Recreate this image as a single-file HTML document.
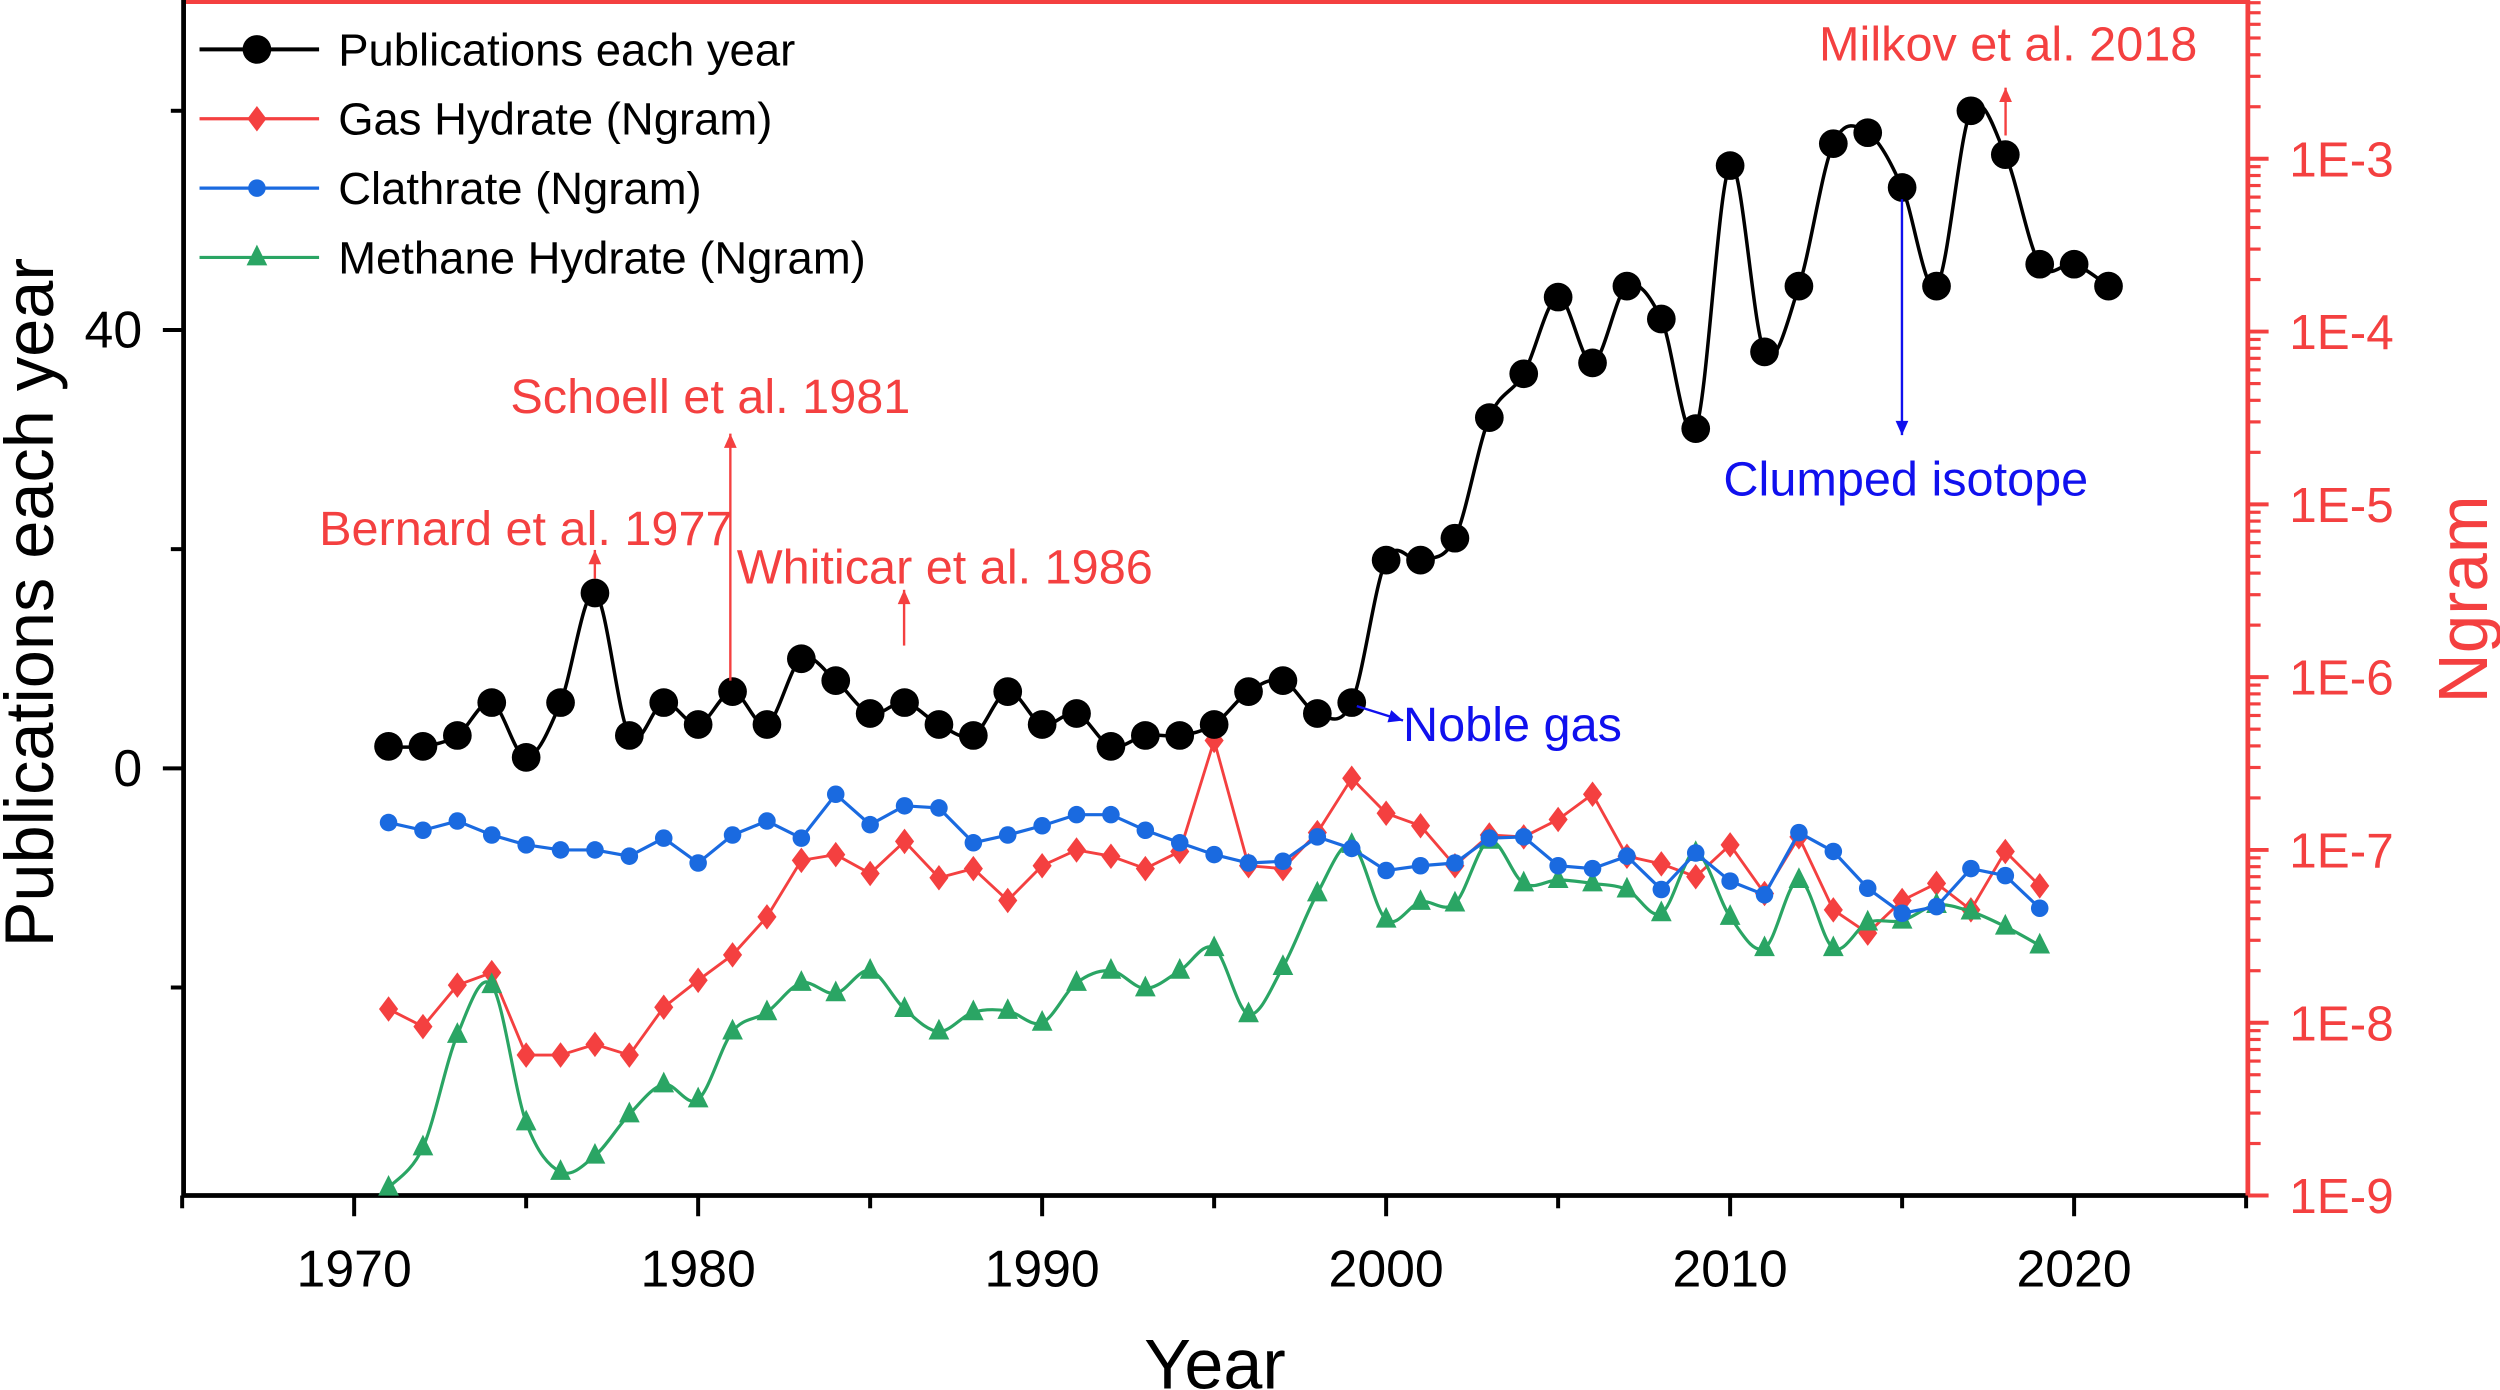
<!DOCTYPE html>
<html><head><meta charset="utf-8"><style>html,body{margin:0;padding:0;background:#fff}svg{display:block}text{font-family:"Liberation Sans",Arial,sans-serif}</style></head>
<body>
<svg id="chart" width="2500" height="1390" viewBox="0 0 1568 872" xmlns="http://www.w3.org/2000/svg">
<g id="axes"></g>
<g id="series"></g>
<g id="annot"></g>
</svg>
<script>
const years = [];for(let y=1971;y<=2021;y++)years.push(y);
const pubs = [2,2,3,6,1,6,16,3,6,4,7,4,10,8,5,6,4,3,7,4,5,2,3,3,4,7,8,5,6,19,19,21,32,36,43,37,44,41,31,55,38,44,57,58,53,44,60,56,46,46,44];
const ngramYears = [];for(let y=1971;y<=2019;y++)ngramYears.push(y);
const gasHydrate = [1.2e-8,9.5e-9,1.65e-8,1.95e-8,6.5e-9,6.5e-9,7.5e-9,6.5e-9,1.23e-8,1.76e-8,2.47e-8,4.1e-8,8.7e-8,9.4e-8,7.3e-8,1.12e-7,6.9e-8,7.8e-8,5.1e-8,8.1e-8,1.0e-7,9.2e-8,7.8e-8,9.8e-8,4.3e-7,8.1e-8,7.8e-8,1.26e-7,2.6e-7,1.63e-7,1.38e-7,8.1e-8,1.22e-7,1.19e-7,1.5e-7,2.1e-7,9.2e-8,8.3e-8,7.0e-8,1.07e-7,5.6e-8,1.19e-7,4.5e-8,3.3e-8,5.1e-8,6.4e-8,4.5e-8,9.8e-8,6.2e-8];
const clathrate = [1.44e-7,1.3e-7,1.47e-7,1.22e-7,1.07e-7,1.0e-7,1.0e-7,9.2e-8,1.17e-7,8.4e-8,1.22e-7,1.47e-7,1.17e-7,2.1e-7,1.4e-7,1.8e-7,1.75e-7,1.1e-7,1.22e-7,1.38e-7,1.6e-7,1.6e-7,1.3e-7,1.1e-7,9.4e-8,8.4e-8,8.6e-8,1.19e-7,1.02e-7,7.6e-8,8.1e-8,8.4e-8,1.17e-7,1.19e-7,8.1e-8,7.8e-8,9.2e-8,5.9e-8,9.6e-8,6.6e-8,5.5e-8,1.26e-7,9.8e-8,6.0e-8,4.3e-8,4.7e-8,7.8e-8,7.1e-8,4.6e-8];
const methane = [1.11e-9,1.9e-9,8.5e-9,1.65e-8,2.65e-9,1.37e-9,1.7e-9,2.95e-9,4.4e-9,3.6e-9,8.9e-9,1.15e-8,1.7e-8,1.48e-8,2.0e-8,1.2e-8,8.9e-9,1.15e-8,1.17e-8,1.0e-8,1.7e-8,2.0e-8,1.58e-8,2.0e-8,2.7e-8,1.12e-8,2.1e-8,5.6e-8,1.07e-7,3.95e-8,5.0e-8,4.9e-8,1.13e-7,6.4e-8,6.7e-8,6.4e-8,5.9e-8,4.3e-8,9.6e-8,4.1e-8,2.7e-8,6.7e-8,2.7e-8,3.8e-8,3.9e-8,4.8e-8,4.4e-8,3.6e-8,2.8e-8];
const xTicks = [1970,1980,1990,2000,2010,2020];
const yTicks = [0,40];
const rTicks = [-3,-4,-5,-6,-7,-8,-9];

const NS="http://www.w3.org/2000/svg";
const L=115,R=1410,T=1,B=750;
const X=y=>222+(y-1970)*(1301-222)/50;
const Y=v=>482-v*6.875;
const YR=v=>750-(Math.log10(v)+9)*108.4;
function mk(tag,attrs,parent,txt){const e=document.createElementNS(NS,tag);for(const k in attrs)e.setAttribute(k,attrs[k]);if(txt!==undefined)e.textContent=txt;parent.appendChild(e);return e;}
const ax=document.getElementById('axes'),se=document.getElementById('series'),an=document.getElementById('annot');
const RED='#f44040',BLUE='#1a6ae0',GREEN='#2aa564';
let e;
e=mk('line',{x1:L,y1:T,x2:R,y2:T,stroke:RED,'stroke-width':3},ax);


e=mk('line',{x1:L,y1:0,x2:L,y2:B+1,stroke:'#000','stroke-width':3},ax);


e=mk('line',{x1:L,y1:B,x2:R,y2:B,stroke:'#000','stroke-width':3},ax);


e=mk('line',{x1:R,y1:0,x2:R,y2:B+1,stroke:RED,'stroke-width':3},ax);


for(let yr=1965;yr<=2025;yr+=5){const major=yr%10===0;mk('line',{x1:X(yr),y1:B,x2:X(yr),y2:B+(major?13:8),stroke:'#000','stroke-width':2.5},ax);}
xTicks.forEach(t=>{e=mk('text',{x:X(t),y:807,'font-size':32.5,'text-anchor':'middle'},ax,String(t));

});
for(let v=-20;v<=60;v+=20){const major=v%40===0;mk('line',{x1:L,y1:Y(v),x2:L-(major?13:8),y2:Y(v),stroke:'#000','stroke-width':2.5},ax);}
yTicks.forEach(t=>{e=mk('text',{x:89,y:Y(t)+11,'font-size':32.5,'text-anchor':'end'},ax,String(t));

});
for(let d=-9;d<=-3;d++){mk('line',{x1:R,y1:YR(Math.pow(10,d)),x2:R+13,y2:YR(Math.pow(10,d)),stroke:RED,'stroke-width':2.5},ax);
 for(let m=2;m<=9;m++){const yy=YR(m*Math.pow(10,d));if(yy>0)mk('line',{x1:R,y1:yy,x2:R+8,y2:yy,stroke:RED,'stroke-width':2},ax);}}
rTicks.forEach(d=>{e=mk('text',{x:1436,y:YR(Math.pow(10,d))+11,'font-size':31,fill:RED},ax,'1E'+d);

});
e=mk('text',{x:762,y:871,'font-size':44,'text-anchor':'middle'},ax,'Year');


e=mk('text',{x:0,y:0,'font-size':43,'text-anchor':'middle',transform:'translate(33,378) rotate(-90)'},ax,'Publications each year');


e=mk('text',{x:0,y:0,'font-size':43.5,'text-anchor':'middle',fill:RED,transform:'translate(1560,376) rotate(-90)'},ax,'Ngram');


function smooth(pts){let d='M'+pts[0][0]+','+pts[0][1];for(let i=0;i<pts.length-1;i++){const p0=pts[i-1]||pts[i],p1=pts[i],p2=pts[i+1],p3=pts[i+2]||p2;
 const c1=[p1[0]+(p2[0]-p0[0])/6,p1[1]+(p2[1]-p0[1])/6],c2=[p2[0]-(p3[0]-p1[0])/6,p2[1]-(p3[1]-p1[1])/6];d+=' C'+c1+' '+c2+' '+p2;}return d;}
function straight(pts){return 'M'+pts.map(p=>p.join(',')).join(' L');}
function marker(type,x,y,col,g){
 if(type==='circle')return mk('circle',{cx:x,cy:y,r:9,fill:col},g);
 if(type==='dot')return mk('circle',{cx:x,cy:y,r:5.5,fill:col},g);
 if(type==='diamond')return mk('polygon',{points:`${x},${y-8} ${x+6},${y} ${x},${y+8} ${x-6},${y}`,fill:col},g);
 return mk('polygon',{points:`${x},${y-8} ${x+6.5},${y+5} ${x-6.5},${y+5}`,fill:col},g);}
function series(name,xs,vals,yf,col,type,sm,w){const g=mk('g',{},se);
 
 
 const pts=xs.map((x,i)=>[X(x),yf(vals[i])]);
 mk('path',{d:sm?smooth(pts):straight(pts),fill:'none',stroke:col,'stroke-width':w},g);
 pts.forEach(p=>{const m=marker(type,p[0],p[1],col,g);
 
 });}
series('gas-hydrate-series',ngramYears,gasHydrate,YR,RED,'diamond',false,1.8);
series('methane-hydrate-series',ngramYears,methane,YR,GREEN,'tri',true,2);
series('clathrate-series',ngramYears,clathrate,YR,BLUE,'dot',false,2);
series('publications-series',years,pubs,Y,'#000','circle',true,2.2);
const leg=mk('g',{},ax);


[['Publications each year','#000','circle'],['Gas Hydrate (Ngram)',RED,'diamond'],['Clathrate (Ngram)',BLUE,'dot'],['Methane Hydrate (Ngram)',GREEN,'tri']].forEach((it,i)=>{
 const y=31+i*43.5;const g=mk('g',{},leg);
 
 
 mk('line',{x1:125,y1:y,x2:200,y2:y,stroke:it[1],'stroke-width':i?2:2.5},g);
 marker(it[2],161,y,it[1],g);
 mk('text',{x:212,y:y+10,'font-size':28.5},g,it[0]);});
function arrow(x1,y1,x2,y2,col){const g=mk('g',{},an);const a=Math.atan2(y2-y1,x2-x1),h=9;
 mk('line',{x1,y1,x2,y2,stroke:col,'stroke-width':1.5},g);
 mk('polygon',{points:`${x2},${y2} ${x2-h*Math.cos(a)+4*Math.sin(a)},${y2-h*Math.sin(a)-4*Math.cos(a)} ${x2-h*Math.cos(a)-4*Math.sin(a)},${y2-h*Math.sin(a)+4*Math.cos(a)}`,fill:col},g);return g;}
function label(t,x,y,col,name){const el=mk('text',{x,y,'font-size':30.5,fill:col},an,t);
 
 }
label('Bernard et al. 1977',200,342,RED,'bernard-label');arrow(373,363,373,345,RED);
label('Schoell et al. 1981',320,259,RED,'schoell-label');arrow(458,427,458,272,RED);
label('Whiticar et al. 1986',462,366,RED,'whiticar-label');arrow(567,405,567,370,RED);
label('Milkov et al. 2018',1141,38,RED,'milkov-label');arrow(1258,85,1258,55,RED);
label('Noble gas',880,465,'#1010ee','noble-gas-label');arrow(851,443,880,452,'#1010ee');
label('Clumped isotope',1081,311,'#1010ee','clumped-isotope-label');arrow(1193,125,1193,273,'#1010ee');
</script>
</body></html>
